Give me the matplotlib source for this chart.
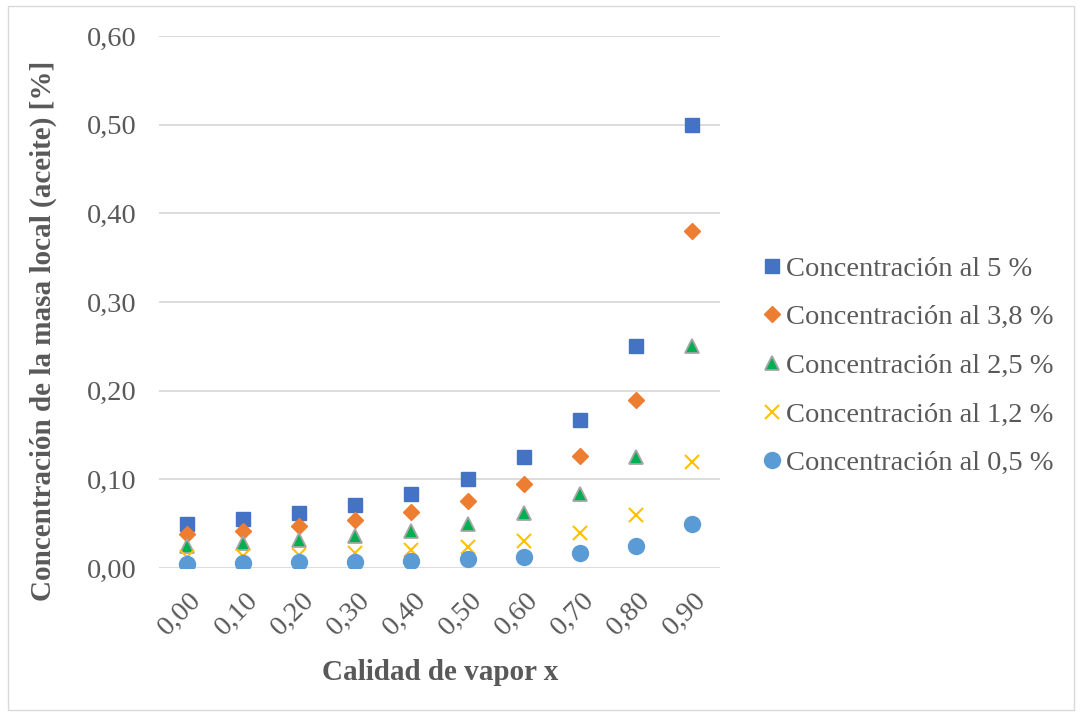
import matplotlib
matplotlib.use("Agg")
import matplotlib.pyplot as plt
from matplotlib.patches import Rectangle
from matplotlib.transforms import ScaledTranslation

# Vapor quality categories (x axis)
calidad = ["0,00", "0,10", "0,20", "0,30", "0,40", "0,50", "0,60", "0,70", "0,80", "0,90"]

# Local oil mass concentration [%] for each initial concentration
conc_5_0 = [0.050, 0.0556, 0.0625, 0.0714, 0.0833, 0.100, 0.125, 0.1667, 0.250, 0.500]
conc_3_8 = [0.038, 0.0422, 0.0475, 0.0543, 0.0633, 0.076, 0.095, 0.1267, 0.190, 0.380]
conc_2_5 = [0.025, 0.0278, 0.0313, 0.0357, 0.0417, 0.050, 0.0625, 0.0833, 0.125, 0.250]
conc_1_2 = [0.012, 0.0133, 0.0150, 0.0171, 0.0200, 0.024, 0.030, 0.040, 0.060, 0.120]
conc_0_5 = [0.005, 0.0056, 0.0063, 0.0071, 0.0083, 0.010, 0.0125, 0.0167, 0.025, 0.050]

labels = ["Concentración al 5 %", "Concentración al 3,8 %", "Concentración al 2,5 %",
          "Concentración al 1,2 %", "Concentración al 0,5 %"]
y_ticks = [0.0, 0.1, 0.2, 0.3, 0.4, 0.5, 0.6]
y_ticklabels = ["0,00", "0,10", "0,20", "0,30", "0,40", "0,50", "0,60"]

plt.rcParams["font.family"] = ["Liberation Serif", "DejaVu Serif"]
text_color = "#595959"
grid_color = "#d9d9d9"

fig = plt.figure(figsize=(10.82, 7.16), dpi=100)
fig.patch.set_facecolor("white")
ax = fig.add_axes([159 / 1082, 1 - 568 / 716, 561 / 1082, 532 / 716])

x = list(range(len(calidad)))
ax.plot(x, conc_5_0, linestyle="none", marker="s", markersize=10.5,
        markerfacecolor="#4472C4", markeredgecolor="#4472C4", label=labels[0], zorder=3)
ax.plot(x, conc_3_8, linestyle="none", marker="D", markersize=8,
        markerfacecolor="#ED7D31", markeredgecolor="#ED7D31", label=labels[1], zorder=3)
ax.plot(x, conc_2_5, linestyle="none", marker="^", markersize=10,
        markerfacecolor="#00B050", markeredgecolor="#A5A5A5", markeredgewidth=1.3,
        label=labels[2], zorder=3)
ax.plot(x, conc_1_2, linestyle="none", marker="x", markersize=9.5,
        markeredgecolor="#FFC000", markeredgewidth=1.5, label=labels[3], zorder=3)
ax.plot(x, conc_0_5, linestyle="none", marker="o", markersize=11.5,
        markerfacecolor="#5B9BD5", markeredgecolor="#5B9BD5", label=labels[4], zorder=3)

ax.set_xlim(-0.5, len(calidad) - 0.5)
ax.set_ylim(0, 0.6)
ax.set_xticks(x)
ax.set_xticklabels(calidad, rotation=45, ha="right", va="top", rotation_mode="anchor")
ax.set_yticks(y_ticks)
ax.set_yticklabels(y_ticklabels)
ax.tick_params(axis="both", length=0, labelsize=20.5, colors=text_color)
ax.tick_params(axis="y", pad=16)
ax.tick_params(axis="x", pad=14)
for lab in ax.get_xticklabels():
    lab.set_transform(lab.get_transform() + ScaledTranslation(2 / 100, 0, fig.dpi_scale_trans))

ax.grid(axis="y", color=grid_color, linewidth=1.3, zorder=0)
for s in ax.spines.values():
    s.set_visible(False)

fig.text(43 / 1082, 1 - 331 / 716, "Concentración de la masa local (aceite) [%]",
         rotation=90, ha="center", va="center", fontsize=21, fontweight="bold", color=text_color)
fig.text(440 / 1082, 1 - 672 / 716, "Calidad de vapor x",
         ha="center", va="center", fontsize=21, fontweight="bold", color=text_color)

leg = fig.legend(loc="center left", bbox_to_anchor=(752 / 1082, 1 - 366 / 716),
                 frameon=False, fontsize=20.5, labelspacing=0.8, handlelength=0.6,
                 handletextpad=0.2, borderaxespad=0, labelcolor=text_color)

# Light chart frame
fig.patches.append(Rectangle((8 / 1082, 6 / 716), 1 - 16 / 1082, 1 - 12 / 716,
                             transform=fig.transFigure, fill=False,
                             edgecolor=grid_color, linewidth=1.0))

fig.savefig("out.png", dpi=100, facecolor="white")
